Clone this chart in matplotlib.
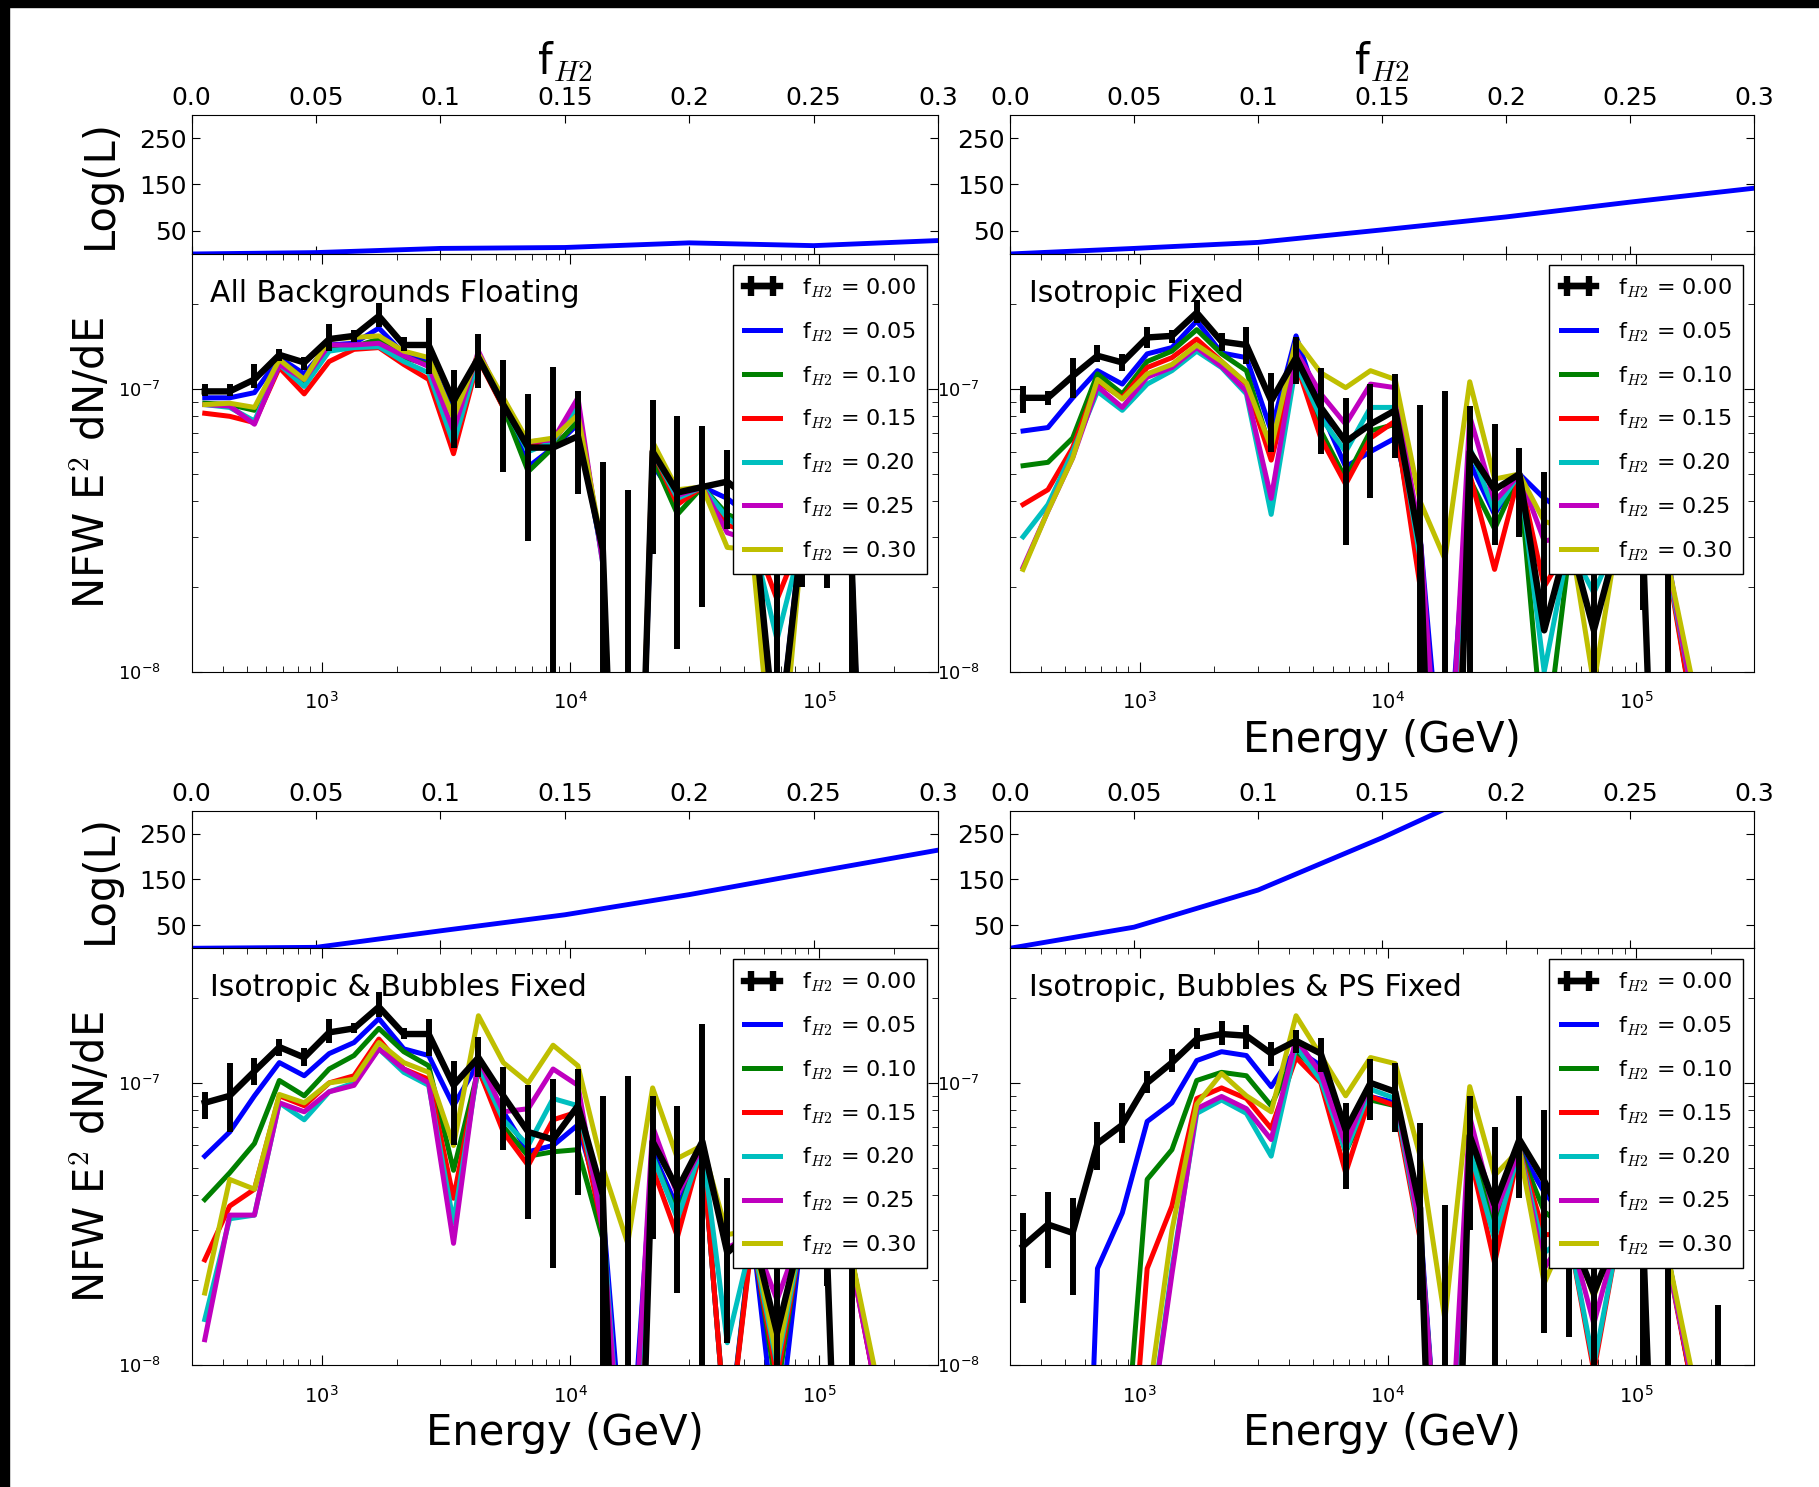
import numpy as np
import matplotlib
matplotlib.use('Agg')
import matplotlib.pyplot as plt
from matplotlib.patches import Rectangle

plt.rcParams['font.family'] = 'DejaVu Sans'
plt.rcParams['mathtext.fontset'] = 'cm'
plt.rcParams['xtick.direction'] = 'in'
plt.rcParams['ytick.direction'] = 'in'

# energy bins (GeV)
energy = [339, 427, 537, 676, 851, 1072, 1349, 1698, 2138, 2692, 3388, 4266, 5370,
          6761, 8511, 10715, 13490, 16982, 21380, 26915, 33884, 42658, 53703,
          67608, 85114, 107152, 134896, 169824, 213796]

f_h2 = [0.0, 0.05, 0.1, 0.15, 0.2, 0.25, 0.3]
f_labels = ['0.05', '0.10', '0.15', '0.20', '0.25', '0.30']
colors = ['b', 'g', 'r', 'c', 'm', 'y']
unit = 1e-8

# Log(L) vs f_H2
logl_a = [0, 3, 12, 14, 24, 18, 29]
logl_b = [0, 12, 25, 52, 80, 112, 142]
logl_c = [0, 2, 38, 73, 117, 166, 214]
logl_d = [0, 46, 127, 241, 365, 510, 680]

# All Backgrounds Floating (values in 1e-8)
a_data = [9.8, 9.8, 10.8, 13.2, 12.4, 15.0, 15.4, 18.1, 14.3, 14.3, 9.07, 12.9, 8.8, 6.2, 6.2, 6.8, 2.7, 0.01, 6.0, 4.3, 4.5, 4.7, 4.0, 0.5, 3.0, 2.6, 2.4, 0.01]
a_lo = [9.45, 9.4, 10.1, 12.6, 11.7, 13.6, 14.7, 16.6, 13.6, 11.3, 6.2, 10.1, 5.1, 2.9, 0.005, 4.25, 0.005, 0.005, 2.6, 1.2, 1.7, 3.2, 2.6, 0.005, 2.0, 1.97, 0.005, 0.005]
a_hi = [10.4, 10.4, 12.2, 13.8, 13.0, 16.9, 16.2, 20.1, 15.2, 17.8, 11.7, 15.6, 12.7, 9.6, 12.0, 9.8, 5.5, 4.4, 9.1, 8.0, 7.4, 6.1, 5.5, 3.0, 4.0, 3.5, 3.5, 0.01]
a_f05 = [9.3, 9.3, 9.7, 12.9, 11.3, 14.3, 14.5, 16.4, 13.3, 12.5, 8.4, 12.9, 9.1, 5.3, 6.2, 7.5, 2.5, 0.01, 5.4, 4.0, 4.5, 4.1, 3.5, 0.5, 3.2, 2.8, 2.5, 0.01]
a_f10 = [8.9, 8.8, 8.4, 12.5, 10.6, 14.0, 14.1, 15.0, 12.9, 12.2, 8.1, 12.9, 8.6, 5.1, 6.2, 7.7, 2.55, 0.01, 5.7, 3.6, 4.5, 3.6, 3.3, 0.5, 3.0, 2.7, 2.4, 0.01]
a_f15 = [8.2, 8.0, 7.6, 11.9, 9.6, 12.5, 13.8, 14.0, 12.2, 10.8, 5.9, 12.7, 8.6, 6.4, 6.5, 8.6, 2.5, 0.01, 6.0, 3.9, 4.5, 3.3, 3.1, 1.8, 3.0, 2.6, 2.3, 0.01]
a_f20 = [8.8, 8.6, 7.7, 12.2, 10.2, 13.6, 14.0, 14.1, 12.5, 11.4, 6.4, 12.9, 8.8, 6.0, 6.5, 8.8, 2.4, 0.01, 6.0, 4.1, 4.5, 3.5, 3.0, 1.3, 2.9, 2.6, 2.3, 0.01]
a_f25 = [8.8, 8.7, 7.5, 12.2, 10.8, 14.3, 14.3, 14.5, 13.1, 12.0, 7.1, 13.6, 8.9, 6.5, 6.6, 9.3, 2.4, 0.01, 6.4, 4.2, 4.5, 3.1, 2.9, 0.5, 2.9, 2.6, 2.3, 0.01]
a_f30 = [8.8, 8.9, 8.6, 12.7, 10.8, 15.0, 15.2, 15.4, 13.6, 12.9, 7.9, 13.3, 9.3, 6.5, 6.7, 8.1, 2.7, 0.01, 6.5, 4.4, 4.5, 2.75, 2.7, 0.3, 2.8, 2.5, 2.3, 0.01]

# Isotropic Fixed
b_data = [9.3, 9.3, 11.1, 13.1, 12.4, 15.2, 15.4, 18.6, 14.7, 14.3, 9.07, 12.9, 8.6, 6.5, 7.5, 8.4, 2.8, 0.01, 6.0, 4.4, 5.0, 1.4, 3.0, 1.4, 3.0, 2.5, 0.01]
b_lo = [8.2, 8.8, 9.3, 12.4, 11.6, 14.0, 14.5, 17.1, 13.6, 12.2, 6.0, 10.4, 5.9, 2.8, 4.1, 5.7, 0.005, 0.005, 0.005, 2.8, 3.0, 1.4, 2.2, 1.0, 2.2, 1.65, 0.005]
b_hi = [10.2, 9.8, 12.9, 14.3, 13.3, 16.6, 16.2, 20.7, 15.8, 16.6, 11.4, 15.2, 11.9, 9.3, 10.4, 11.3, 8.8, 9.8, 8.7, 7.5, 6.2, 5.1, 4.0, 3.0, 4.0, 3.5, 3.0]
b_f05 = [7.1, 7.3, 9.3, 11.6, 10.4, 13.3, 14.0, 17.4, 13.4, 12.9, 7.1, 15.4, 8.4, 5.3, 6.0, 6.7, 3.0, 0.3, 5.5, 3.6, 5.0, 4.1, 3.6, 3.0, 3.2, 2.8, 2.5, 0.7]
b_f10 = [5.35, 5.5, 6.7, 11.3, 9.6, 12.5, 13.6, 16.2, 13.3, 11.6, 6.0, 12.5, 7.1, 4.8, 7.1, 7.5, 2.2, 0.2, 4.8, 3.2, 5.0, 0.5, 2.6, 2.6, 3.0, 2.6, 2.4, 0.7]
b_f15 = [3.9, 4.4, 6.2, 10.6, 9.3, 11.9, 12.9, 15.0, 12.5, 10.4, 5.6, 12.4, 6.7, 4.6, 6.7, 7.7, 2.0, 0.2, 5.0, 2.3, 5.0, 2.0, 2.8, 2.5, 3.0, 2.6, 2.3, 0.7]
b_f20 = [3.0, 3.9, 6.0, 9.8, 8.4, 10.4, 11.6, 13.6, 11.9, 9.6, 3.6, 12.2, 7.9, 6.0, 8.6, 8.6, 2.5, 0.2, 6.2, 3.7, 5.0, 1.0, 2.8, 1.9, 3.0, 2.6, 2.3, 0.8]
b_f25 = [2.34, 3.7, 5.7, 10.2, 8.6, 11.0, 11.9, 14.0, 12.0, 9.8, 4.1, 13.6, 9.6, 7.5, 10.4, 10.1, 3.0, 0.2, 8.0, 4.0, 5.0, 2.9, 3.0, 2.4, 3.0, 2.6, 2.4, 0.8]
b_f30 = [2.3, 3.7, 5.7, 10.8, 9.2, 11.3, 12.2, 14.3, 12.5, 10.5, 6.2, 14.9, 11.4, 10.1, 11.6, 10.8, 4.0, 2.5, 10.6, 4.8, 5.0, 3.4, 3.2, 0.9, 3.2, 2.7, 2.4, 0.9]

# Isotropic & Bubbles Fixed
c_data = [8.5, 9.0, 11.0, 13.4, 12.3, 15.1, 15.6, 18.6, 14.9, 14.9, 9.8, 12.3, 9.0, 6.7, 6.3, 8.3, 4.0, 0.01, 6.2, 4.2, 6.2, 2.5, 3.0, 1.3, 3.0, 2.6, 0.01]
c_lo = [7.45, 6.7, 9.8, 12.5, 11.5, 13.9, 15.0, 17.1, 14.3, 12.5, 6.0, 10.5, 5.8, 3.3, 2.2, 4.0, 0.005, 0.005, 2.8, 1.8, 0.005, 1.2, 2.2, 1.0, 2.2, 1.9, 0.005]
c_hi = [9.25, 11.8, 12.3, 14.3, 13.3, 16.9, 16.3, 21.0, 15.6, 16.9, 12.0, 14.6, 11.4, 9.8, 10.3, 11.2, 9.0, 10.6, 9.0, 8.3, 16.2, 4.6, 4.0, 2.6, 4.0, 3.5, 3.0]
c_f05 = [5.5, 6.7, 9.0, 11.8, 10.6, 12.7, 13.9, 16.9, 13.2, 12.5, 8.3, 11.8, 7.9, 5.7, 6.0, 7.1, 3.5, 0.3, 5.7, 3.6, 6.0, 0.5, 3.0, 0.5, 3.0, 2.7, 2.4, 0.8]
c_f10 = [3.86, 4.8, 6.1, 10.2, 9.0, 11.2, 12.5, 15.6, 12.9, 11.5, 4.9, 11.2, 7.0, 5.5, 5.7, 5.8, 2.8, 0.2, 5.5, 3.4, 6.0, 0.5, 2.9, 0.8, 3.0, 2.6, 2.4, 0.8]
c_f15 = [2.36, 3.66, 4.2, 9.0, 8.3, 10.0, 10.6, 14.3, 11.2, 10.3, 3.9, 11.2, 6.7, 5.1, 7.4, 7.9, 3.0, 0.2, 5.0, 2.85, 6.0, 0.5, 2.8, 0.9, 2.9, 2.6, 2.3, 0.8]
c_f20 = [1.45, 3.3, 3.4, 8.5, 7.4, 9.3, 10.0, 13.2, 10.9, 9.8, 3.2, 11.5, 7.4, 6.0, 8.8, 8.3, 3.3, 0.2, 5.5, 3.3, 6.0, 1.2, 2.8, 1.0, 2.9, 2.6, 2.3, 0.85]
c_f25 = [1.23, 3.4, 3.4, 8.5, 7.9, 9.3, 9.8, 13.2, 11.2, 10.0, 2.7, 12.2, 7.9, 8.1, 11.2, 9.8, 3.0, 0.2, 7.0, 4.0, 6.0, 2.6, 2.9, 1.7, 3.0, 2.6, 2.3, 0.8]
c_f30 = [1.8, 4.55, 4.2, 9.1, 8.5, 10.0, 10.3, 13.9, 11.8, 10.9, 6.0, 17.3, 11.8, 10.0, 13.6, 11.5, 5.0, 2.7, 9.6, 5.4, 6.0, 2.9, 3.0, 1.05, 3.1, 2.7, 2.4, 0.9]

# Isotropic, Bubbles & PS Fixed
d_data = [2.64, 3.15, 2.94, 6.1, 7.1, 10.0, 11.8, 14.3, 14.9, 14.7, 12.7, 14.1, 12.7, 6.8, 10.0, 9.3, 3.6, 0.01, 6.5, 3.7, 6.3, 4.5, 3.0, 1.8, 3.0, 2.6, 0.01, 0.01, 0.01]
d_lo = [1.66, 2.2, 1.77, 4.9, 6.1, 9.2, 10.9, 13.2, 13.6, 13.2, 11.5, 12.8, 10.9, 4.2, 7.4, 6.7, 1.7, 0.005, 3.0, 0.005, 3.9, 1.3, 1.26, 1.0, 2.2, 0.005, 0.005, 0.005, 0.005]
d_hi = [3.46, 4.1, 3.9, 7.25, 8.5, 11.0, 13.2, 15.6, 16.6, 16.0, 14.0, 15.4, 14.4, 8.5, 12.2, 11.8, 7.2, 3.7, 9.0, 7.0, 9.0, 8.0, 7.0, 3.0, 4.0, 3.5, 3.0, 0.01, 1.63]
d_f05 = [0.01, 0.01, 0.01, 2.2, 3.46, 7.3, 8.5, 12.0, 12.9, 12.5, 9.7, 13.2, 11.5, 6.0, 8.95, 8.5, 3.2, 0.2, 5.9, 3.1, 5.8, 4.1, 3.2, 2.4, 3.1, 2.7, 2.4, 0.8]
d_f10 = [0.01, 0.01, 0.01, 0.01, 0.35, 4.55, 5.8, 10.2, 10.9, 10.6, 8.3, 12.9, 10.8, 5.7, 8.7, 8.3, 3.0, 0.2, 5.8, 3.2, 5.8, 3.5, 3.0, 2.3, 3.0, 2.6, 2.4, 0.8]
d_f15 = [0.01, 0.01, 0.01, 0.01, 0.16, 2.2, 3.66, 8.8, 9.6, 8.8, 6.9, 12.3, 10.0, 4.8, 8.95, 8.3, 2.8, 0.2, 5.6, 2.3, 5.8, 2.9, 2.9, 0.95, 2.9, 2.6, 2.3, 0.8]
d_f20 = [0.01, 0.01, 0.01, 0.01, 0.01, 0.5, 2.2, 7.8, 8.7, 7.8, 5.5, 13.5, 10.2, 5.7, 9.5, 8.8, 2.9, 0.2, 5.8, 2.8, 5.8, 2.5, 2.9, 1.0, 2.9, 2.6, 2.3, 0.85]
d_f25 = [0.01, 0.01, 0.01, 0.01, 0.01, 0.5, 2.1, 8.1, 8.95, 8.1, 6.3, 14.3, 10.8, 6.0, 10.0, 9.3, 3.0, 0.2, 7.6, 3.4, 5.8, 2.2, 3.0, 1.4, 3.0, 2.6, 2.3, 0.85]
d_f30 = [0.01, 0.01, 0.01, 0.01, 0.05, 0.7, 3.0, 8.4, 10.8, 9.0, 7.9, 17.3, 12.5, 9.0, 12.3, 11.7, 5.5, 1.45, 9.7, 4.7, 5.8, 1.95, 3.1, 1.75, 3.1, 2.7, 2.4, 0.9]

panels = [
    ('All Backgrounds Floating', logl_a, a_data, a_lo, a_hi, [a_f05, a_f10, a_f15, a_f20, a_f25, a_f30]),
    ('Isotropic Fixed', logl_b, b_data, b_lo, b_hi, [b_f05, b_f10, b_f15, b_f20, b_f25, b_f30]),
    ('Isotropic & Bubbles Fixed', logl_c, c_data, c_lo, c_hi, [c_f05, c_f10, c_f15, c_f20, c_f25, c_f30]),
    ('Isotropic, Bubbles & PS Fixed', logl_d, d_data, d_lo, d_hi, [d_f05, d_f10, d_f15, d_f20, d_f25, d_f30]),
]

fig = plt.figure(figsize=(18.19, 14.87), dpi=100)

col_x = [0.1053, 0.5552]
col_w = [0.4104, 0.4093]
row_top = [(0.8292, 0.0935, 0.5483, 0.2809), (0.3623, 0.0925, 0.0820, 0.2803)]

for i, (title, logl, dat, lo, hi, fits) in enumerate(panels):
    row, col = i // 2, i % 2
    lb, lh, mb, mh = row_top[row]
    axl = fig.add_axes([col_x[col], lb, col_w[col], lh])
    ax = fig.add_axes([col_x[col], mb, col_w[col], mh])

    # likelihood panel
    axl.plot(f_h2, logl, color='b', lw=3.5)
    axl.set_xlim(0, 0.3)
    axl.set_ylim(0, 300)
    axl.set_yticks([50, 150, 250])
    axl.set_xticks(f_h2)
    axl.set_xticklabels(['0.0', '0.05', '0.1', '0.15', '0.2', '0.25', '0.3'])
    axl.xaxis.tick_top()
    axl.tick_params(axis='x', which='both', top=True, bottom=True, labeltop=True, labelbottom=False)
    axl.tick_params(axis='y', right=True)
    axl.tick_params(labelsize=18, length=6)
    if row == 0:
        axl.set_xlabel('f$_{H2}$', fontsize=30)
        axl.xaxis.set_label_position('top')
        axl.xaxis.labelpad = 8
    if col == 0:
        axl.set_ylabel('Log(L)', fontsize=30)
        axl.yaxis.set_label_coords(-0.095, 0.5)

    # spectrum panel
    d = np.array(dat) * unit
    l = np.array(lo) * unit
    h = np.array(hi) * unit
    n = len(d)
    for c, y in zip(colors, fits):
        ax.plot(energy[:len(y)], np.array(y) * unit, color=c, lw=3.6, zorder=2)
    ax.errorbar(energy[:n], d, yerr=[d - l, h - d], fmt='k-', lw=4.6,
                elinewidth=4.3, capsize=0, zorder=3)
    ax.set_xscale('log')
    ax.set_yscale('log')
    ax.text(0.025, 0.905, title, transform=ax.transAxes, fontsize=21.5,
            va='center', ha='left', zorder=5)

    # legend: proxy errorbar for the "H" handle
    proxy = ax.errorbar([1.0], [1e-20], xerr=[0.5], fmt='k-', lw=4.6,
                        elinewidth=4.6, capsize=7, capthick=4.6)
    handles = [proxy] + ax.get_lines()[:6]
    labels = ['f$_{H2}$ = 0.00'] + ['f$_{H2}$ = ' + s for s in f_labels]
    leg = ax.legend(handles, labels, loc='upper right', fontsize=16,
                    handlelength=1.6, labelspacing=0.9, borderpad=0.5,
                    handletextpad=1.0, fancybox=False, framealpha=1)
    leg.get_frame().set_edgecolor('black')
    leg.set_zorder(10)
    ax.set_xlim(300, 3e5)
    ax.set_ylim(1e-8, 3e-7)

    ax.xaxis.set_tick_params(which='both', top=True, labelsize=14, pad=14)
    ax.yaxis.set_tick_params(which='both', right=True, labelsize=13, pad=22)
    ax.xaxis.set_tick_params(which='major', length=7)
    ax.xaxis.set_tick_params(which='minor', length=4)
    ax.yaxis.set_tick_params(which='major', length=7)
    ax.yaxis.set_tick_params(which='minor', length=4)

    if col == 0:
        ax.set_ylabel('NFW E$^2$ dN/dE', fontsize=30)
        ax.yaxis.set_label_coords(-0.103, 0.5)
    if not (row == 0 and col == 0):
        ax.set_xlabel('Energy (GeV)', fontsize=30)

# black border on top and left of the screenshot
fig.add_artist(Rectangle((0, 1 - 7 / 1487), 1, 7 / 1487, transform=fig.transFigure,
                         color='black', zorder=20))
fig.add_artist(Rectangle((0, 0), 9 / 1819, 1, transform=fig.transFigure,
                         color='black', zorder=20))

fig.savefig('out.png', dpi=100)
